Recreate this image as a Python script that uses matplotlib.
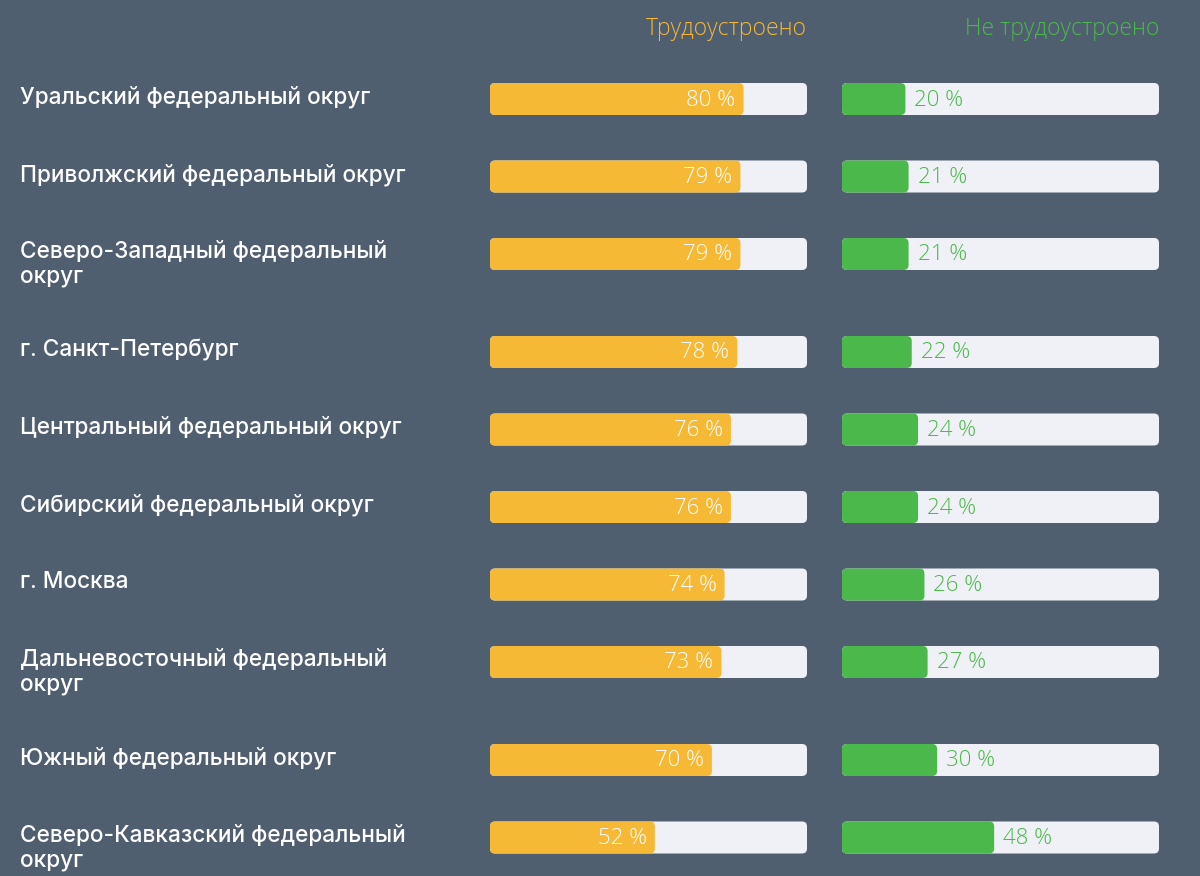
import matplotlib
matplotlib.use("Agg")
import matplotlib.pyplot as plt
from matplotlib.patches import FancyBboxPatch

regions = [
    "Уральский федеральный округ",
    "Приволжский федеральный округ",
    "Северо-Западный федеральный\nокруг",
    "г. Санкт-Петербург",
    "Центральный федеральный округ",
    "Сибирский федеральный округ",
    "г. Москва",
    "Дальневосточный федеральный\nокруг",
    "Южный федеральный округ",
    "Северо-Кавказский федеральный\nокруг",
]
employed = [80, 79, 79, 78, 76, 76, 74, 73, 70, 52]
unemployed = [20, 21, 21, 22, 24, 24, 26, 27, 30, 48]
headers = ["Трудоустроено", "Не трудоустроено"]

BG = "#4f5f70"
TRACK = "#eff1f6"
ORANGE = "#f5b935"
GREEN = "#4bb84b"

W, H = 1200, 876
fig = plt.figure(figsize=(W / 100, H / 100), dpi=100)
fig.patch.set_facecolor(BG)

# row centres (pixels from top), two-line labels take extra space
ys = []
y = 99
for r in regions:
    ys.append(y)
    y += 98 if "\n" in r else 77.5

BAR_H = 32
L0, L1 = 490, 807
R0, R1 = 842, 1159


def make_ax(x0, x1):
    ax = fig.add_axes([x0 / W, 0, (x1 - x0) / W, 1])
    ax.set_xlim(0, 100)
    ax.set_ylim(H, 0)
    ax.axis("off")
    ax.patch.set_alpha(0)
    return ax


axL = make_ax(L0, L1)
axR = make_ax(R0, R1)
xunit = (L1 - L0) / 100.0  # px per percent
rad = 5.0


def rbar(ax, x, yc, w, color, z):
    p = FancyBboxPatch((x, yc - BAR_H / 2), w, BAR_H,
                       boxstyle=f"round,pad=0,rounding_size={rad / xunit}",
                       mutation_aspect=xunit, fc=color, ec="none", zorder=z)
    ax.add_patch(p)


lab_font = dict(family=["Inter", "DejaVu Sans"])
num_font = dict(family=["Open Sans", "DejaVu Sans"])
for i, (r, e, u) in enumerate(zip(regions, employed, unemployed)):
    yc = ys[i]
    rbar(axL, 0, yc, 100, TRACK, 1)
    rbar(axL, 0, yc, e, ORANGE, 2)
    axL.text(e - 8 / xunit, yc + 1, f"{e} %", ha="right", va="center",
             color="white", fontsize=16, fontweight="light", zorder=3, **num_font)
    rbar(axR, 0, yc, 100, TRACK, 1)
    rbar(axR, 0, yc, u, GREEN, 2)
    axR.text(u + 9 / xunit, yc + 1, f"{u} %", ha="left", va="center",
             color=GREEN, fontsize=16, fontweight="light", zorder=3, **num_font)
    fig.text(20 / W, 1 - (yc - 13) / H, r, ha="left", va="top", color="white",
             fontsize=16.3, fontweight="medium", linespacing=1.16, **lab_font)

fig.text(L1 / W, 1 - 29 / H, headers[0], ha="right", va="center", color=ORANGE,
         fontsize=16.5, fontweight="light", **num_font)
fig.text(R1 / W, 1 - 29 / H, headers[1], ha="right", va="center", color=GREEN,
         fontsize=16.5, fontweight="light", **num_font)

fig.savefig("out.png", dpi=100, facecolor=BG)
